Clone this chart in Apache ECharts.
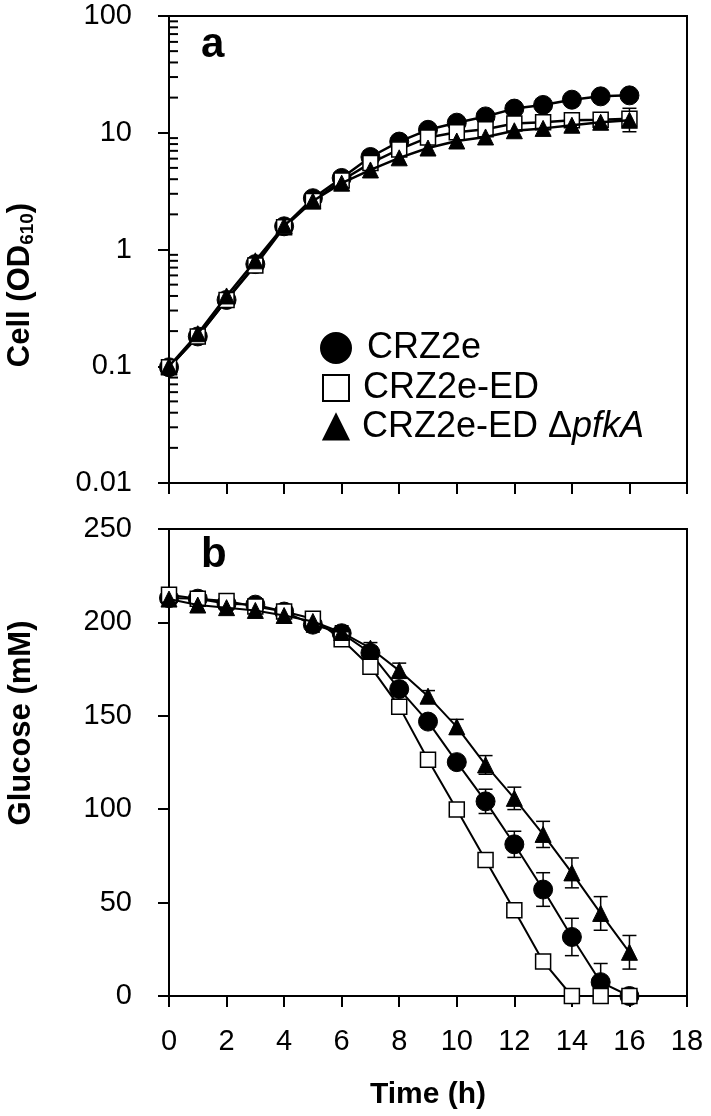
<!DOCTYPE html>
<html>
<head>
<meta charset="utf-8">
<script src="https://cdn.jsdelivr.net/npm/echarts@6/dist/echarts.min.js"></script>
<style>
  html, body { margin: 0; padding: 0; background: #fff; }
  #chart { width: 711px; height: 1116px; }
</style>
</head>
<body>
<div id="chart"></div>
<script>
// time points (h)
const hours = [0, 1, 2, 3, 4, 5, 6, 7, 8, 9, 10, 11, 12, 13, 14, 15, 16];
const seriesNames = ['CRZ2e', 'CRZ2e-ED', 'CRZ2e-ED ΔpfkA'];

// panel a: cell growth, OD610
const odCRZ2e = [0.098, 0.18, 0.37, 0.75, 1.58, 2.75, 4.1, 6.2, 8.4, 10.6, 12.2, 13.8, 16.1, 17.3, 19.2, 20.5, 20.9];
const odED = [0.098, 0.18, 0.37, 0.73, 1.55, 2.6, 3.9, 5.5, 7.2, 9.1, 10.1, 10.7, 12.0, 12.3, 12.8, 12.9, 13.2];
const odPfkA = [0.1, 0.19, 0.4, 0.8, 1.6, 2.6, 3.7, 4.8, 6.1, 7.4, 8.5, 9.2, 10.4, 10.9, 11.6, 12.3, 12.8];
const odErrCRZ2e = [0, 0, 0, 0, 0, 0, 0, 0.8, 0.8, 0, 0, 0, 0, 0, 1.5, 0, 0];
const odErrED = [0, 0, 0, 0, 0, 0, 0, 0, 0, 0, 0, 0, 0, 0, 0, 1.5, 3.0];
const odErrPfkA = [0, 0, 0, 0, 0, 0, 0, 0, 0, 0, 0, 0, 0, 0, 0, 0, 1.2];

// panel b: glucose (mM)
const glcCRZ2e = [213, 212.7, 210, 209.5, 205.8, 198.8, 194.2, 183.7, 164.3, 146.9, 125.2, 104.2, 81.2, 57.0, 31.6, 7.4, 0];
const glcED = [214.8, 212.7, 211.5, 208.5, 205.8, 202, 191, 176.3, 154.9, 126.5, 99.9, 72.8, 45.9, 18.5, 0, 0, 0];
const glcPfkA = [212.5, 209.3, 207.9, 206.4, 203.7, 200.5, 194.6, 186.2, 174.2, 160.5, 144.1, 123.7, 105.8, 86.5, 65.9, 44.2, 23.4];
const glcErrCRZ2e = [0, 0, 0, 0, 0, 4, 4, 3, 2, 2, 3, 6.5, 7, 9, 10, 10, 0];
const glcErrED = [0, 0, 0, 0, 0, 3, 0, 0, 0, 0, 0, 0, 0, 0, 0, 0, 0];
const glcErrPfkA = [0, 0, 0, 0, 0, 0, 0, 3, 4, 3, 4, 5, 6, 7, 8, 9, 9];

// tick values
const odTicks = [0.01, 0.1, 1, 10, 100];
const odMinorTicks = [0.02, 0.03, 0.04, 0.05, 0.06, 0.07, 0.08, 0.09,
  0.2, 0.3, 0.4, 0.5, 0.6, 0.7, 0.8, 0.9,
  2, 3, 4, 5, 6, 7, 8, 9,
  20, 30, 40, 50, 60, 70, 80, 90];

const FONT = "'Liberation Sans', Arial, sans-serif";

function pairs(vals) {
  return hours.map((h, i) => [h, vals[i]]);
}

function errData(vals, errs, floor) {
  const out = [];
  hours.forEach((h, i) => {
    if (errs[i] > 0) out.push([h, Math.max(floor, vals[i] - errs[i]), vals[i] + errs[i]]);
  });
  return out;
}

function renderErr(params, api) {
  const x = api.value(0);
  const top = api.coord([x, api.value(2)]);
  const bot = api.coord([x, api.value(1)]);
  const hw = 7;
  const st = { stroke: '#000', lineWidth: 1.5 };
  return {
    type: 'group',
    children: [
      { type: 'line', shape: { x1: top[0], y1: top[1], x2: bot[0], y2: bot[1] }, style: st },
      { type: 'line', shape: { x1: top[0] - hw, y1: top[1], x2: top[0] + hw, y2: top[1] }, style: st },
      { type: 'line', shape: { x1: bot[0] - hw, y1: bot[1], x2: bot[0] + hw, y2: bot[1] }, style: st }
    ]
  };
}

function renderMinorTick(params, api) {
  const p = api.coord([0, api.value(0)]);
  return {
    type: 'line',
    shape: { x1: p[0], y1: p[1], x2: p[0] + 9, y2: p[1] },
    style: { stroke: '#000', lineWidth: 2 }
  };
}

const styles = [
  { symbol: 'circle', symbolSize: 19, itemStyle: { color: '#000', borderColor: '#000', borderWidth: 1 } },
  { symbol: 'rect', symbolSize: 15, itemStyle: { color: '#fff', borderColor: '#000', borderWidth: 1.5 } },
  { symbol: 'triangle', symbolSize: 16, itemStyle: { color: '#000', borderColor: '#000', borderWidth: 1 } }
];

function lineSeries(idx, gi, vals, width) {
  return Object.assign({
    name: seriesNames[idx],
    type: 'line',
    xAxisIndex: gi,
    yAxisIndex: gi,
    data: pairs(vals),
    lineStyle: { color: '#000', width: width },
    z: 3 + idx,
    animation: false
  }, styles[idx]);
}

function errSeries(gi, vals, errs, floor) {
  return {
    type: 'custom',
    xAxisIndex: gi,
    yAxisIndex: gi,
    data: errData(vals, errs, floor),
    encode: { x: 0, y: [1, 2] },
    renderItem: renderErr,
    z: 2,
    silent: true,
    animation: false
  };
}

const axisLine = { show: true, lineStyle: { color: '#000', width: 2 } };
const axisTick = { show: true, inside: false, length: 11, lineStyle: { color: '#000', width: 2 } };
const labelStyle = { color: '#000', fontSize: 29, fontFamily: FONT };

function legendItem(idx, top, size, formatter) {
  return {
    show: true,
    left: 320 + (30 - size) / 2,
    top: top,
    padding: 0,
    orient: 'vertical',
    itemWidth: size,
    itemHeight: size,
    selectedMode: false,
    data: [{ name: seriesNames[idx], icon: styles[idx].symbol }],
    formatter: formatter,
    textStyle: {
      color: '#000', fontSize: 36, fontFamily: FONT, lineHeight: 36,
      padding: [0, 0, 0, 11 - (30 - size) / 2],
      rich: {
        i: { color: '#000', fontSize: 36, fontFamily: FONT, fontStyle: 'italic', lineHeight: 36 }
      }
    }
  };
}

const option = {
  backgroundColor: '#fff',
  animation: false,
  grid: [
    { left: 169, top: 16, width: 518, height: 467, show: true, borderColor: '#000', borderWidth: 2, containLabel: false },
    { left: 169, top: 529, width: 518, height: 467, show: true, borderColor: '#000', borderWidth: 2, containLabel: false }
  ],
  xAxis: [
    {
      gridIndex: 0, type: 'value', min: 0, max: 18, interval: 2,
      axisLine: axisLine, axisTick: axisTick, axisLabel: { show: false }, splitLine: { show: false }
    },
    {
      gridIndex: 1, type: 'value', min: 0, max: 18, interval: 2,
      axisLine: axisLine, axisTick: axisTick,
      axisLabel: Object.assign({ margin: 31 }, labelStyle),
      splitLine: { show: false },
      name: 'Time (h)', nameLocation: 'middle', nameGap: 84,
      nameTextStyle: { color: '#000', fontSize: 30, fontWeight: 'bold', fontFamily: FONT }
    }
  ],
  yAxis: [
    {
      gridIndex: 0, type: 'log', logBase: 10, min: odTicks[0], max: odTicks[odTicks.length - 1],
      axisLine: axisLine, axisTick: axisTick,
      axisLabel: Object.assign({ margin: 37, formatter: v => String(+Number(v).toPrecision(2)) }, labelStyle),
      splitLine: { show: false }, minorTick: { show: false }
    },
    {
      gridIndex: 1, type: 'value', min: 0, max: 250, interval: 50,
      axisLine: axisLine, axisTick: axisTick,
      axisLabel: Object.assign({ margin: 37 }, labelStyle),
      splitLine: { show: false }
    }
  ],
  legend: [
    legendItem(0, 330, 30),
    legendItem(1, 370, 26),
    legendItem(2, 409, 25, 'CRZ2e-ED Δ{i|pfkA}')
  ],
  graphic: [
    { type: 'text', left: 201, top: 24, style: { text: 'a', fontSize: 42, fontWeight: 'bold', fontFamily: FONT, fill: '#000' } },
    { type: 'text', left: 201, top: 534, style: { text: 'b', fontSize: 42, fontWeight: 'bold', fontFamily: FONT, fill: '#000' } },
    {
      type: 'text', x: 20, y: 285, rotation: Math.PI / 2,
      style: {
        text: '{b|Cell (OD}{s|610}{b|)}', align: 'center', verticalAlign: 'middle',
        rich: {
          b: { fontSize: 31, fontWeight: 'bold', fontFamily: FONT, fill: '#000', lineHeight: 34 },
          s: { fontSize: 19, fontWeight: 'bold', fontFamily: FONT, fill: '#000', verticalAlign: 'bottom', lineHeight: 19, padding: [10, 0, 0, 0] }
        }
      }
    },
    {
      type: 'text', x: 21, y: 723, rotation: Math.PI / 2,
      style: {
        text: 'Glucose (mM)', align: 'center', verticalAlign: 'middle',
        fontSize: 31, fontWeight: 'bold', fontFamily: FONT, fill: '#000'
      }
    }
  ],
  series: [
    // ticks for the log axis between decades
    {
      type: 'custom', xAxisIndex: 0, yAxisIndex: 0,
      data: odMinorTicks.map(v => [v]),
      encode: { y: 0 },
      renderItem: renderMinorTick, clip: false, silent: true, z: 1, animation: false
    },
    errSeries(0, odCRZ2e, odErrCRZ2e, 0.011),
    errSeries(0, odED, odErrED, 0.011),
    errSeries(0, odPfkA, odErrPfkA, 0.011),
    lineSeries(0, 0, odCRZ2e, 2.5),
    lineSeries(1, 0, odED, 2.5),
    lineSeries(2, 0, odPfkA, 2.5),
    errSeries(1, glcCRZ2e, glcErrCRZ2e, 0),
    errSeries(1, glcED, glcErrED, 0),
    errSeries(1, glcPfkA, glcErrPfkA, 0),
    lineSeries(0, 1, glcCRZ2e, 2),
    lineSeries(1, 1, glcED, 2),
    lineSeries(2, 1, glcPfkA, 2)
  ]
};

const chart = echarts.init(document.getElementById('chart'), null, { renderer: 'canvas' });
chart.setOption(option);
</script>
</body>
</html>
